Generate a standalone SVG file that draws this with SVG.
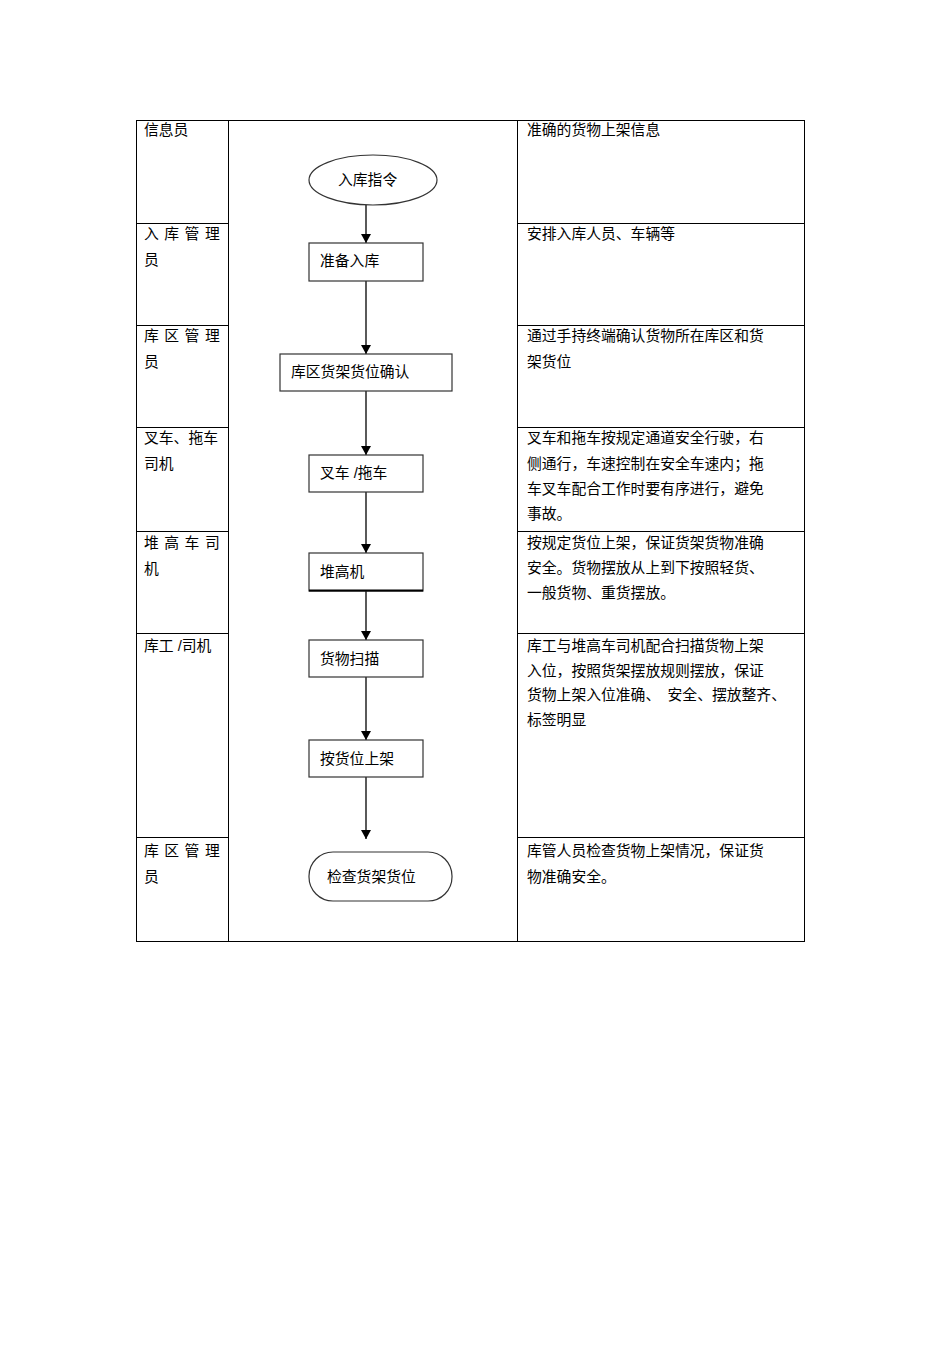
<svg xmlns="http://www.w3.org/2000/svg" width="950" height="1345" viewBox="0 0 950 1345">
<style>
text{font-family:"Liberation Sans","Noto Sans CJK SC",sans-serif;font-size:14.8px;fill:#000}
.g{stroke:#000;stroke-width:1;fill:none}
.n{stroke:#333;stroke-width:1.2;fill:#fff}
.a{stroke:#000;stroke-width:1.3;fill:none;marker-end:url(#ah)}
</style>
<defs><marker id="ah" markerWidth="10" markerHeight="10" refX="9" refY="5" orient="auto" markerUnits="userSpaceOnUse"><path d="M0,0L9,5L0,10z" fill="#000"/></marker></defs>
<rect width="950" height="1345" fill="#fff"/>
<g id="table" class="g">
<rect x="136.5" y="120.5" width="668" height="821"/>
<line x1="228.5" y1="120" x2="228.5" y2="941"/>
<line x1="517.5" y1="120" x2="517.5" y2="941"/>
<path d="M136 223.5H228M136 325.5H228M136 427.5H228M136 531.5H228M136 633.5H228M136 837.5H228"/>
<path d="M517 223.5H804M517 325.5H804M517 427.5H804M517 531.5H804M517 633.5H804M517 837.5H804"/>
</g>
<g id="roles">
<text x="144" y="135">信息员</text>
<text x="144" y="239" letter-spacing="5.5">入库管理</text><text x="144" y="265">员</text>
<text x="144" y="341" letter-spacing="5.5">库区管理</text><text x="144" y="367">员</text>
<text x="144" y="443">叉车、拖车</text><text x="144" y="469">司机</text>
<text x="144" y="548" letter-spacing="5.5">堆高车司</text><text x="144" y="574">机</text>
<text x="144" y="651">库工 /司机</text>
<text x="144" y="856" letter-spacing="5.5">库区管理</text><text x="144" y="882">员</text>
</g>
<g id="notes">
<text x="527" y="135">准确的货物上架信息</text>
<text x="527" y="239">安排入库人员、车辆等</text>
<text x="527" y="341">通过手持终端确认货物所在库区和货</text><text x="527" y="367">架货位</text>
<text x="527" y="443">叉车和拖车按规定通道安全行驶，右</text><text x="527" y="469">侧通行，车速控制在安全车速内；拖</text><text x="527" y="494">车叉车配合工作时要有序进行，避免</text><text x="527" y="519">事故。</text>
<text x="527" y="548">按规定货位上架，保证货架货物准确</text><text x="527" y="573">安全。货物摆放从上到下按照轻货、</text><text x="527" y="598">一般货物、重货摆放。</text>
<text x="527" y="651">库工与堆高车司机配合扫描货物上架</text><text x="527" y="676">入位，按照货架摆放规则摆放，保证</text><text x="527" y="700">货物上架入位准确、　安全、摆放整齐、</text><text x="527" y="725">标签明显</text>
<text x="527" y="856">库管人员检查货物上架情况，保证货</text><text x="527" y="882">物准确安全。</text>
</g>
<g id="connectors">
<line class="a" x1="366" y1="205" x2="366" y2="243"/>
<line class="a" x1="366" y1="281" x2="366" y2="354"/>
<line class="a" x1="366" y1="391" x2="366" y2="455"/>
<line class="a" x1="366" y1="492" x2="366" y2="553"/>
<line class="a" x1="366" y1="591" x2="366" y2="640"/>
<line class="a" x1="366" y1="677" x2="366" y2="740"/>
<line class="a" x1="366" y1="777" x2="366" y2="839"/>
</g>
<g id="n1"><ellipse class="n" cx="373" cy="180" rx="64" ry="25"/><text x="338" y="185">入库指令</text></g>
<g id="n2"><rect class="n" x="309" y="243" width="114" height="38"/><text x="320" y="266">准备入库</text></g>
<g id="n3"><rect class="n" x="280" y="354" width="172" height="37"/><text x="291" y="377">库区货架货位确认</text></g>
<g id="n4"><rect class="n" x="309" y="455" width="114" height="37"/><text x="320" y="478">叉车 /拖车</text></g>
<g id="n5"><rect class="n" x="309" y="553" width="114" height="38"/><line x1="309" y1="590.5" x2="423" y2="590.5" stroke="#000" stroke-width="2"/><text x="320" y="577">堆高机</text></g>
<g id="n6"><rect class="n" x="309" y="640" width="114" height="37"/><text x="320" y="664">货物扫描</text></g>
<g id="n7"><rect class="n" x="309" y="740" width="114" height="37"/><text x="320" y="764">按货位上架</text></g>
<g id="n8"><rect class="n" x="309" y="852" width="143" height="49" rx="24" ry="24"/><text x="327" y="882">检查货架货位</text></g>
</svg>
